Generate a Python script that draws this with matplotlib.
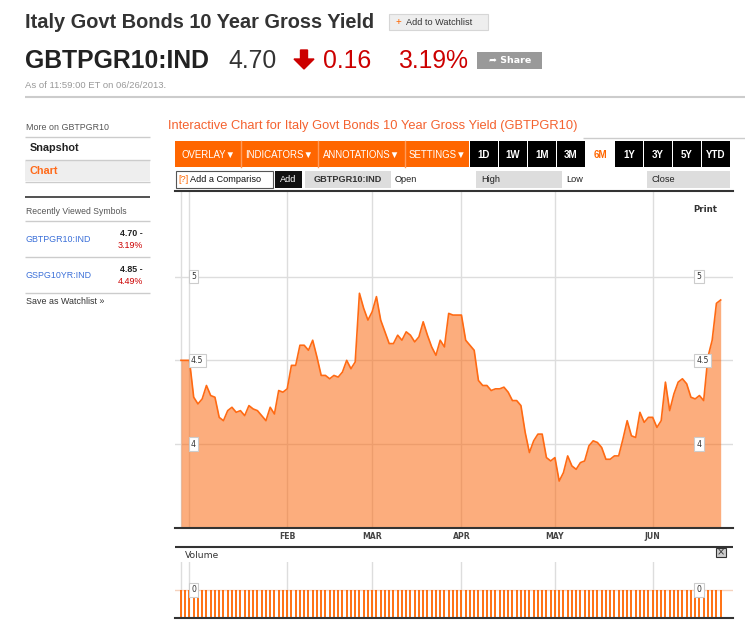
import numpy as np
import pandas as pd
import matplotlib.pyplot as plt
import matplotlib.transforms as mtransforms
from matplotlib.patches import Rectangle, FancyArrow

plt.rcParams['font.family'] = ['Liberation Sans', 'DejaVu Sans']

# daily 10y gross yield (business days from 28 Dec 2012)
yields = [4.50, 4.50, 4.50,
          4.28, 4.24, 4.27, 4.35, 4.29, 4.28, 4.16, 4.14, 4.20, 4.22,
          4.19, 4.20, 4.17, 4.23, 4.21, 4.20, 4.17, 4.14, 4.22, 4.18,
          4.32, 4.31, 4.33, 4.47, 4.47, 4.59, 4.59, 4.56, 4.62, 4.52,
          4.41, 4.41, 4.39, 4.41, 4.40, 4.43, 4.50, 4.45, 4.49, 4.90,
          4.81, 4.74, 4.79, 4.88, 4.74, 4.67, 4.60, 4.60, 4.65, 4.62,
          4.67, 4.65, 4.61, 4.64, 4.73, 4.65, 4.58, 4.53, 4.62, 4.58,
          4.78, 4.77, 4.77, 4.77,
          4.62, 4.59, 4.56, 4.38, 4.35, 4.35, 4.32, 4.33, 4.33, 4.34,
          4.31, 4.26, 4.26, 4.23, 4.07, 3.95, 4.02, 4.06, 4.06, 3.92,
          3.90, 3.92, 3.78, 3.83, 3.93, 3.87, 3.85, 3.89, 3.90, 3.99,
          4.02, 4.01, 3.98, 3.91, 3.91, 3.93, 3.93, 4.03, 4.14, 4.05,
          4.04, 4.19, 4.13, 4.16, 4.16, 4.10, 4.14, 4.37, 4.20, 4.30,
          4.37, 4.39, 4.36, 4.28, 4.27, 4.29, 4.26, 4.52, 4.62, 4.84,
          4.86]
volume = [0] * len(yields)
dates = pd.bdate_range('2012-12-28', periods=len(yields))
y_ticks = [4, 4.5, 5]
hidden_months = ['DEC', 'JAN']

ranges = ['1D', '1W', '1M', '3M', '6M', '1Y', '3Y', '5Y', 'YTD']
active_range = '6M'
menus = ['OVERLAY▼', 'INDICATORS▼', 'ANNOTATIONS▼', 'SETTINGS▼']
recent = [('GBTPGR10:IND', '4.70 -', '3.19%'), ('GSPG10YR:IND', '4.85 -', '4.49%')]

x = np.arange(len(yields))
month_idx = [i for i in range(len(dates)) if i == 0 or dates[i].month != dates[i - 1].month]
month_lbl = [dates[i].strftime('%b').upper() for i in month_idx]
month_lbl = ['' if m in hidden_months else m for m in month_lbl]

W, H = 745, 627
fig = plt.figure(figsize=(W / 100, H / 100), dpi=100)

def px_axes(x0, y0, x1, y1):
    return fig.add_axes([x0 / W, 1 - y1 / H, (x1 - x0) / W, (y1 - y0) / H])

# page overlay in pixel coordinates (drawn on top, transparent)
bg = fig.add_axes([0, 0, 1, 1], zorder=5)
bg.set_xlim(0, W)
bg.set_ylim(H, 0)
bg.axis('off')
bg.patch.set_alpha(0)

def box(x0, y0, x1, y1, fc, ec='none', lw=0.8):
    bg.add_patch(Rectangle((x0, y0), x1 - x0, y1 - y0, facecolor=fc, edgecolor=ec, linewidth=lw))

def hline(y, x0, x1, color, lw=1.0):
    bg.plot([x0, x1], [y, y], color=color, lw=lw, solid_capstyle='butt')

# header
bg.text(25, 22, 'Italy Govt Bonds 10 Year Gross Yield', fontsize=14.4, weight='bold', color='#333333', va='center')
box(389, 14, 488, 30, '#eeeeee', '#d6d6d6')
bg.text(396, 22.5, '+', color='#ff6600', fontsize=7, va='center')
bg.text(406, 22.5, 'Add to Watchlist', fontsize=6.6, color='#333333', va='center')

bg.text(25, 61, 'GBTPGR10:IND', fontsize=17.8, weight='bold', color='#222222', va='center')
bg.text(228, 61, '4.70', fontsize=17.8, color='#333333', va='center')
bg.add_patch(FancyArrow(304, 50, 0, 19, width=7, head_width=20, head_length=10,
                        length_includes_head=True, color='#cc0000'))
bg.text(323, 61, '0.16', fontsize=17.8, color='#cc0000', va='center')
bg.text(398, 61, '3.19%', fontsize=17.8, color='#cc0000', va='center')
box(477, 52, 542, 69, '#999999')
bg.text(510, 60.5, '➦ Share', fontsize=6.8, weight='bold', color='white', ha='center', va='center',
        family=['DejaVu Sans'])
bg.text(25, 86, 'As of 11:59:00 ET on 06/26/2013.', fontsize=6.8, color='#999999', va='center')
hline(97, 25, 745, '#cccccc', 1.5)

# sidebar
bg.text(26, 128, 'More on GBTPGR10', fontsize=6.4, color='#555555', va='center')
hline(137, 25, 150, '#cccccc')
bg.text(30, 148, 'Snapshot', fontsize=7.8, weight='bold', color='#222222', va='center')
hline(160, 25, 150, '#cccccc')
box(25, 160.5, 150, 181, '#eeeeee')
bg.text(29, 171, 'Chart', fontsize=7.8, weight='bold', color='#ff6a1a', va='center')
hline(181.5, 25, 150, '#cccccc')
hline(197, 25, 150, '#333333', 1.2)
bg.text(26, 211, 'Recently Viewed Symbols', fontsize=6.2, color='#555555', va='center')
hline(221, 25, 150, '#cccccc')
for k, (sym, last, pct) in enumerate(recent):
    y0 = 233 + k * 36
    bg.text(26, y0 + 6, sym, fontsize=6.4, color='#3a6fd8', va='center')
    bg.text(143, y0, last, fontsize=6.4, weight='bold', color='#222222', va='center', ha='right')
    bg.text(143, y0 + 13, pct, fontsize=6.4, color='#cc0000', va='center', ha='right')
    hline(y0 + 24, 25, 150, '#cccccc')
bg.text(26, 302, 'Save as Watchlist »', fontsize=6.4, color='#333333', va='center')

# chart header and toolbar
bg.text(168, 126, 'Interactive Chart for Italy Govt Bonds 10 Year Gross Yield (GBTPGR10)',
        fontsize=9.3, color='#f4622f', va='center')
hline(138, 583, 745, '#cccccc')

box(175, 141, 469, 167, '#ff6600')
edges = [175, 241, 318, 405, 469]
for k, m in enumerate(menus):
    if k > 0:
        bg.plot([edges[k], edges[k]], [141, 167], color='#ff9a5a', lw=1)
    bg.text((edges[k] + edges[k + 1]) / 2, 154.5, m, fontsize=6.9, color='white', ha='center', va='center')
for k, r in enumerate(ranges):
    cx = 484 + k * 29
    on = r == active_range
    box(cx - 14, 141, cx + 14, 167, 'white' if on else '#000000')
    bg.text(cx, 154.5, r, fontsize=7, weight='bold', color='#ff6600' if on else 'white',
            ha='center', va='center')

box(176, 171, 273, 188, 'white', '#555555')
bg.text(178, 179.5, '[?]', fontsize=6.6, color='#ff6600', va='center')
bg.text(190, 179.5, 'Add a Compariso', fontsize=6.6, color='#111111', va='center')
box(275, 171, 302, 188, '#111111')
bg.text(288.5, 179.5, 'Add', fontsize=6.6, color='white', ha='center', va='center')
box(305, 171, 391, 188, '#dddddd')
bg.text(348, 179.5, 'GBTPGR10:IND', fontsize=6.6, weight='bold', color='#333333', ha='center', va='center')
bg.text(395, 179.5, 'Open', fontsize=6.6, color='#222222', va='center')
box(476, 171, 562, 188, '#dddddd')
bg.text(481, 179.5, 'High', fontsize=6.6, color='#222222', va='center')
bg.text(566, 179.5, 'Low', fontsize=6.6, color='#222222', va='center')
box(647, 171, 730, 188, '#dddddd')
bg.text(651, 179.5, 'Close', fontsize=6.6, color='#222222', va='center')

bg.text(705, 209, 'Print', fontsize=6.2, weight='bold', color='#333333', ha='center', va='center',
        family=['DejaVu Sans'])

# price chart
ax = px_axes(175, 191, 733, 528)
xlim = (-1.4, 129.9)
ylim = (3.5, 5.51)
ax.fill_between(x, yields, ylim[0], color='#fb6a12', alpha=0.55, lw=0)
ax.plot(x, yields, color='#ff6a13', lw=1.2)
ax.set_xlim(*xlim)
ax.set_ylim(*ylim)
ax.set_xticks(month_idx)
ax.set_xticklabels(month_lbl, fontsize=5.6, weight='bold', color='#444444', family=['DejaVu Sans'])
ax.set_yticks(y_ticks)
ax.set_yticklabels([])
ax.tick_params(length=0, pad=3)
ax.grid(color='#dddddd', lw=1)
ax.set_axisbelow(True)
for s in ['left', 'right']:
    ax.spines[s].set_visible(False)
for s in ['top', 'bottom']:
    ax.spines[s].set_color('#333333')
    ax.spines[s].set_linewidth(1.5)

trans = mtransforms.blended_transform_factory(ax.transAxes, ax.transData)
lbl_box = dict(boxstyle='square,pad=0.3', fc='white', ec='#cccccc', lw=0.8)
for v in y_ticks:
    for xa in (0.0287, 0.935):
        ax.text(xa, v, f'{v:g}', transform=trans, fontsize=5.6, color='#333333', va='center',
                bbox=lbl_box, family=['DejaVu Sans'])

# volume panel
hline(547, 175, 733, '#333333', 1.5)
bg.text(185, 556, 'Volume', fontsize=6.6, color='#333333', va='center', family=['DejaVu Sans'])
box(716, 548, 726, 557, '#cccccc', '#333333', 0.8)
bg.text(721, 552.5, '×', fontsize=7, color='#333333', ha='center', va='center', family=['DejaVu Sans'])

vol = px_axes(175, 562, 733, 618)
vol.set_xlim(*xlim)
vol.set_ylim(-1, 1)
vol.vlines(x, -1, volume, color='#ff6600', lw=1.3)
vol.axhline(0, color='#f6d2bd', lw=1, zorder=1)
vol.set_xticks(month_idx)
vol.set_xticklabels([])
vol.set_yticks([])
vol.tick_params(length=0)
vol.grid(axis='x', color='#dddddd', lw=1)
vol.set_axisbelow(True)
for s in ['left', 'right', 'top']:
    vol.spines[s].set_visible(False)
vol.spines['bottom'].set_color('#333333')
vol.spines['bottom'].set_linewidth(1.5)
vtrans = mtransforms.blended_transform_factory(vol.transAxes, vol.transData)
for xa in (0.0287, 0.935):
    vol.text(xa, 0, '0', transform=vtrans, fontsize=5.6, color='#333333', va='center',
             bbox=lbl_box, family=['DejaVu Sans'])

fig.savefig('out.png', dpi=100)
